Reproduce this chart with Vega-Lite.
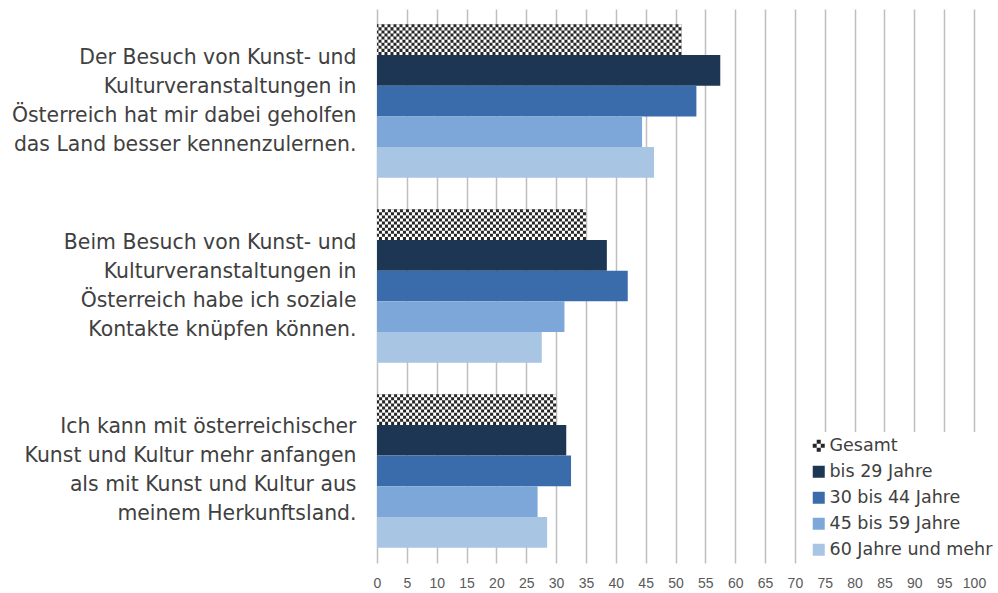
{
  "$schema": "https://vega.github.io/schema/vega-lite/v6.json",
  "width": 597,
  "height": 554,
  "padding": {"left": 0, "top": 9, "right": 0, "bottom": 0},
  "autosize": {"type": "pad"},
  "background": "white",
  "config": {
    "view": {"stroke": null},
    "font": "DejaVu Sans",
    "legend": {
      "orient": "none",
      "legendX": 428,
      "legendY": 423,
      "fillColor": "white",
      "padding": 5,
      "labelFont": "DejaVu Sans",
      "labelFontSize": 17.5,
      "labelColor": "#404040",
      "symbolSize": 144,
      "symbolStrokeWidth": 0,
      "rowPadding": 7,
      "labelOffset": 2,
      "labelLimit": 300
    }
  },
  "data": {
    "values": [
      {"question": "Der Besuch von Kunst- und\nKulturveranstaltungen in\nÖsterreich hat mir dabei geholfen\ndas Land besser kennenzulernen.", "series": "Gesamt", "value": 51},
      {"question": "Der Besuch von Kunst- und\nKulturveranstaltungen in\nÖsterreich hat mir dabei geholfen\ndas Land besser kennenzulernen.", "series": "bis 29 Jahre", "value": 57.5},
      {"question": "Der Besuch von Kunst- und\nKulturveranstaltungen in\nÖsterreich hat mir dabei geholfen\ndas Land besser kennenzulernen.", "series": "30 bis 44 Jahre", "value": 53.5},
      {"question": "Der Besuch von Kunst- und\nKulturveranstaltungen in\nÖsterreich hat mir dabei geholfen\ndas Land besser kennenzulernen.", "series": "45 bis 59 Jahre", "value": 44.4},
      {"question": "Der Besuch von Kunst- und\nKulturveranstaltungen in\nÖsterreich hat mir dabei geholfen\ndas Land besser kennenzulernen.", "series": "60 Jahre und mehr", "value": 46.4},
      {"question": "Beim Besuch von Kunst- und\nKulturveranstaltungen in\nÖsterreich habe ich soziale\nKontakte knüpfen können.", "series": "Gesamt", "value": 35},
      {"question": "Beim Besuch von Kunst- und\nKulturveranstaltungen in\nÖsterreich habe ich soziale\nKontakte knüpfen können.", "series": "bis 29 Jahre", "value": 38.5},
      {"question": "Beim Besuch von Kunst- und\nKulturveranstaltungen in\nÖsterreich habe ich soziale\nKontakte knüpfen können.", "series": "30 bis 44 Jahre", "value": 42},
      {"question": "Beim Besuch von Kunst- und\nKulturveranstaltungen in\nÖsterreich habe ich soziale\nKontakte knüpfen können.", "series": "45 bis 59 Jahre", "value": 31.4},
      {"question": "Beim Besuch von Kunst- und\nKulturveranstaltungen in\nÖsterreich habe ich soziale\nKontakte knüpfen können.", "series": "60 Jahre und mehr", "value": 27.6},
      {"question": "Ich kann mit österreichischer\nKunst und Kultur mehr anfangen\nals mit Kunst und Kultur aus\nmeinem Herkunftsland.", "series": "Gesamt", "value": 30},
      {"question": "Ich kann mit österreichischer\nKunst und Kultur mehr anfangen\nals mit Kunst und Kultur aus\nmeinem Herkunftsland.", "series": "bis 29 Jahre", "value": 31.7},
      {"question": "Ich kann mit österreichischer\nKunst und Kultur mehr anfangen\nals mit Kunst und Kultur aus\nmeinem Herkunftsland.", "series": "30 bis 44 Jahre", "value": 32.5},
      {"question": "Ich kann mit österreichischer\nKunst und Kultur mehr anfangen\nals mit Kunst und Kultur aus\nmeinem Herkunftsland.", "series": "45 bis 59 Jahre", "value": 26.9},
      {"question": "Ich kann mit österreichischer\nKunst und Kultur mehr anfangen\nals mit Kunst und Kultur aus\nmeinem Herkunftsland.", "series": "60 Jahre und mehr", "value": 28.5}
    ]
  },
  "encoding": {
    "y": {
      "field": "question", "type": "nominal", "sort": null, "title": null,
      "scale": {"paddingInner": 0.17, "paddingOuter": 0.0825},
      "axis": {
        "labelExpr": "split(datum.label, '\\n')",
        "labelAlign": "right", "labelBaseline": "middle", "labelLineHeight": 29,
        "labelOffset": -43.5,
        "labelFont": "DejaVu Sans", "labelFontSize": 20.4, "labelColor": "#404040",
        "labelPadding": 21, "labelLimit": 500,
        "domain": false, "ticks": false, "grid": false,
        "minExtent": 377, "maxExtent": 377
      }
    },
    "x": {
      "field": "value", "type": "quantitative", "title": null,
      "scale": {"domain": [0, 100], "nice": false},
      "axis": {
        "values": [0, 5, 10, 15, 20, 25, 30, 35, 40, 45, 50, 55, 60, 65, 70, 75, 80, 85, 90, 95, 100],
        "grid": true, "gridColor": "#bfbfbf", "gridWidth": 1.5,
        "domain": false, "ticks": false,
        "labelFont": "Liberation Sans", "labelFontSize": 14, "labelColor": "#595959",
        "labelPadding": 13, "labelFlush": false
      }
    }
  },
  "layer": [
    {
      "mark": {"type": "point", "filled": true, "size": 40, "opacity": 1},
      "encoding": {
        "x": {"datum": 10},
        "yOffset": {
          "field": "series", "type": "nominal",
          "scale": {"domain": ["Gesamt", "bis 29 Jahre", "30 bis 44 Jahre", "45 bis 59 Jahre", "60 Jahre und mehr"], "paddingInner": 0, "paddingOuter": 0}
        },
        "color": {
          "field": "series", "type": "nominal", "title": null,
          "scale": {"domain": ["Gesamt", "bis 29 Jahre", "30 bis 44 Jahre", "45 bis 59 Jahre", "60 Jahre und mehr"], "range": ["#262626", "#1c3654", "#3a6cab", "#7da7d9", "#a8c5e4"]}
        },
        "shape": {
          "field": "series", "type": "nominal", "title": null,
          "scale": {"domain": ["Gesamt", "bis 29 Jahre", "30 bis 44 Jahre", "45 bis 59 Jahre", "60 Jahre und mehr"], "range": ["M-0.34,-1H0.34V-0.34H-0.34Z M-1,-0.34H-0.34V0.34H-1Z M0.34,-0.34H1V0.34H0.34Z M-0.34,0.34H0.34V1H-0.34Z", "square", "square", "square", "square"]}
        }
      }
    },
    {
      "mark": {"type": "bar"},
      "encoding": {
        "yOffset": {"field": "series", "type": "nominal"},
        "color": {"field": "series", "type": "nominal", "title": null}
      }
    },
    {"transform": [{"filter": "datum.series === 'Gesamt'"}], "mark": {"type": "rule", "color": "white", "strokeWidth": 3.1, "strokeDash": [3, 3], "strokeDashOffset": 0},
     "encoding": {"x2": {"datum": 0}, "y": {"field": "question", "type": "nominal", "sort": null, "bandPosition": 0.01}}},
    {"transform": [{"filter": "datum.series === 'Gesamt'"}], "mark": {"type": "rule", "color": "white", "strokeWidth": 3.1, "strokeDash": [3, 3], "strokeDashOffset": 3},
     "encoding": {"x2": {"datum": 0}, "y": {"field": "question", "type": "nominal", "sort": null, "bandPosition": 0.03}}},
    {"transform": [{"filter": "datum.series === 'Gesamt'"}], "mark": {"type": "rule", "color": "white", "strokeWidth": 3.1, "strokeDash": [3, 3], "strokeDashOffset": 0},
     "encoding": {"x2": {"datum": 0}, "y": {"field": "question", "type": "nominal", "sort": null, "bandPosition": 0.05}}},
    {"transform": [{"filter": "datum.series === 'Gesamt'"}], "mark": {"type": "rule", "color": "white", "strokeWidth": 3.1, "strokeDash": [3, 3], "strokeDashOffset": 3},
     "encoding": {"x2": {"datum": 0}, "y": {"field": "question", "type": "nominal", "sort": null, "bandPosition": 0.07}}},
    {"transform": [{"filter": "datum.series === 'Gesamt'"}], "mark": {"type": "rule", "color": "white", "strokeWidth": 3.1, "strokeDash": [3, 3], "strokeDashOffset": 0},
     "encoding": {"x2": {"datum": 0}, "y": {"field": "question", "type": "nominal", "sort": null, "bandPosition": 0.09}}},
    {"transform": [{"filter": "datum.series === 'Gesamt'"}], "mark": {"type": "rule", "color": "white", "strokeWidth": 3.1, "strokeDash": [3, 3], "strokeDashOffset": 3},
     "encoding": {"x2": {"datum": 0}, "y": {"field": "question", "type": "nominal", "sort": null, "bandPosition": 0.11}}},
    {"transform": [{"filter": "datum.series === 'Gesamt'"}], "mark": {"type": "rule", "color": "white", "strokeWidth": 3.1, "strokeDash": [3, 3], "strokeDashOffset": 0},
     "encoding": {"x2": {"datum": 0}, "y": {"field": "question", "type": "nominal", "sort": null, "bandPosition": 0.13}}},
    {"transform": [{"filter": "datum.series === 'Gesamt'"}], "mark": {"type": "rule", "color": "white", "strokeWidth": 3.1, "strokeDash": [3, 3], "strokeDashOffset": 3},
     "encoding": {"x2": {"datum": 0}, "y": {"field": "question", "type": "nominal", "sort": null, "bandPosition": 0.15}}},
    {"transform": [{"filter": "datum.series === 'Gesamt'"}], "mark": {"type": "rule", "color": "white", "strokeWidth": 3.1, "strokeDash": [3, 3], "strokeDashOffset": 0},
     "encoding": {"x2": {"datum": 0}, "y": {"field": "question", "type": "nominal", "sort": null, "bandPosition": 0.17}}},
    {"transform": [{"filter": "datum.series === 'Gesamt'"}], "mark": {"type": "rule", "color": "white", "strokeWidth": 3.1, "strokeDash": [3, 3], "strokeDashOffset": 3},
     "encoding": {"x2": {"datum": 0}, "y": {"field": "question", "type": "nominal", "sort": null, "bandPosition": 0.19}}}
  ]
}
